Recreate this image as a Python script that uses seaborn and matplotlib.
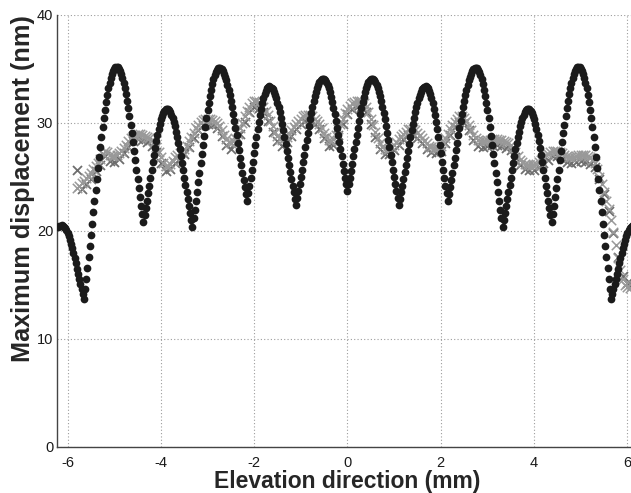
import numpy as np
import pandas as pd
import matplotlib
matplotlib.use("Agg")
import matplotlib.pyplot as plt
import seaborn as sns

# ---------------------------------------------------------------------------
# Maximum displacement (nm) along the elevation direction (mm)
# ---------------------------------------------------------------------------

# Scan A (black dots): sampled every 0.025 mm from -6.200 mm
scan_a_start = -6.2
scan_a_step = 0.025
# elevation -6.200 ... -0.025 mm
scan_a_neg = [
    20.32, 20.42, 20.48,
    20.50, 20.47, 20.38, 20.24, 20.04, 19.79, 19.50, 19.16, 18.78, 18.37,
    17.93, 17.47, 17.00, 16.51, 16.02, 15.54, 15.06, 14.59, 14.13,
    13.70, 14.63, 15.58, 16.55, 17.56, 18.58, 19.61, 20.66, 21.71, 22.76,
    23.80, 24.83, 25.84, 26.83, 27.79, 28.70, 29.58, 30.42, 31.20, 31.91,
    32.58, 33.19, 33.70, 34.14, 34.52, 34.81, 35.01, 35.14,
    35.20, 35.15, 35.02, 34.81, 34.53, 34.16, 33.73, 33.22, 32.65, 32.02,
    31.34, 30.61, 29.84, 29.05, 28.22, 27.38, 26.53, 25.67, 24.82, 23.98,
    23.15, 22.34, 21.56,
    20.80, 21.43, 22.10, 22.78, 23.48, 24.20, 24.92, 25.63, 26.34, 27.02,
    27.68, 28.31, 28.89, 29.42, 29.90, 30.32, 30.67, 30.94, 31.14, 31.26,
    31.30, 31.26, 31.16, 30.98, 30.74, 30.44, 30.08, 29.67, 29.20, 28.69,
    28.13, 27.54, 26.92, 26.28, 25.61, 24.94, 24.27, 23.59, 22.92, 22.26,
    21.62, 21.00,
    20.40, 21.17, 21.97, 22.80, 23.64, 24.51, 25.37, 26.25, 27.12, 27.98,
    28.82, 29.63, 30.41, 31.16, 31.85, 32.50, 33.08, 33.60, 34.04, 34.41,
    34.70, 34.92, 35.05,
    35.10, 35.08, 34.96, 34.79, 34.57, 34.29, 33.95, 33.54, 33.09, 32.59,
    32.05, 31.47, 30.86, 30.22, 29.55, 28.87, 28.18, 27.48, 26.78, 26.08,
    25.40, 24.72, 24.06, 23.42,
    22.80, 23.48, 24.18, 24.91, 25.66, 26.42, 27.18, 27.94, 28.68, 29.40,
    30.08, 30.72, 31.31, 31.83, 32.30, 32.68, 32.99, 33.22, 33.35,
    33.40, 33.36, 33.26, 33.10, 32.89, 32.61, 32.27, 31.89, 31.46, 30.97,
    30.45, 29.89, 29.31, 28.70, 28.07, 27.43, 26.78, 26.12, 25.47, 24.83,
    24.20, 23.58, 22.98,
    22.40, 23.01, 23.65, 24.31, 24.98, 25.67, 26.36, 27.06, 27.75, 28.43,
    29.10, 29.75, 30.37, 30.96, 31.52, 32.03, 32.49, 32.90, 33.26, 33.55,
    33.79, 33.96, 34.06,
    34.10, 34.06, 33.95, 33.77, 33.52, 33.21, 32.83, 32.40, 31.91, 31.38,
    30.81, 30.21, 29.57, 28.92, 28.25, 27.57, 26.90, 26.23, 25.57, 24.92,
    24.30,
]
# elevation 0.000 ... 6.200 mm
scan_a_pos = [
    23.70,
    24.30, 24.92, 25.57, 26.23, 26.90, 27.57, 28.25, 28.92, 29.57, 30.21,
    30.81, 31.38, 31.91, 32.40, 32.83, 33.21, 33.52, 33.77, 33.95, 34.06,
    34.10,
    34.06, 33.96, 33.79, 33.55, 33.26, 32.90, 32.49, 32.03, 31.52, 30.96,
    30.37, 29.75, 29.10, 28.43, 27.75, 27.06, 26.36, 25.67, 24.98, 24.31,
    23.65, 23.01, 22.40,
    22.98, 23.58, 24.20, 24.83, 25.47, 26.12, 26.78, 27.43, 28.07, 28.70,
    29.31, 29.89, 30.45, 30.97, 31.46, 31.89, 32.27, 32.61, 32.89, 33.10,
    33.26, 33.36, 33.40,
    33.35, 33.22, 32.99, 32.68, 32.30, 31.83, 31.31, 30.72, 30.08, 29.40,
    28.68, 27.94, 27.18, 26.42, 25.66, 24.91, 24.18, 23.48, 22.80,
    23.42, 24.06, 24.72, 25.40, 26.08, 26.78, 27.48, 28.18, 28.87, 29.55,
    30.22, 30.86, 31.47, 32.05, 32.59, 33.09, 33.54, 33.95, 34.29, 34.57,
    34.79, 34.96, 35.08, 35.10,
    35.05, 34.92, 34.70, 34.41, 34.04, 33.60, 33.08, 32.50, 31.85, 31.16,
    30.41, 29.63, 28.82, 27.98, 27.12, 26.25, 25.37, 24.51, 23.64, 22.80,
    21.97, 21.17, 20.40,
    21.00, 21.62, 22.26, 22.92, 23.59, 24.27, 24.94, 25.61, 26.28, 26.92,
    27.54, 28.13, 28.69, 29.20, 29.67, 30.08, 30.44, 30.74, 30.98, 31.16,
    31.26, 31.30,
    31.26, 31.14, 30.94, 30.67, 30.32, 29.90, 29.42, 28.89, 28.31, 27.68,
    27.02, 26.34, 25.63, 24.92, 24.20, 23.48, 22.78, 22.10, 21.43, 20.80,
    21.56, 22.34, 23.15, 23.98, 24.82, 25.67, 26.53, 27.38, 28.22, 29.05,
    29.84, 30.61, 31.34, 32.02, 32.65, 33.22, 33.73, 34.16, 34.53, 34.81,
    35.02, 35.15, 35.20,
    35.14, 35.01, 34.81, 34.52, 34.14, 33.70, 33.19, 32.58, 31.91, 31.20,
    30.42, 29.58, 28.70, 27.79, 26.83, 25.84, 24.83, 23.80, 22.76, 21.71,
    20.66, 19.61, 18.58, 17.56, 16.55, 15.58, 14.63, 13.70,
    14.13, 14.59, 15.06, 15.54, 16.02, 16.51, 17.00, 17.47, 17.93, 18.37,
    18.78, 19.16, 19.50, 19.79, 20.04, 20.24, 20.38, 20.47, 20.50,
    20.48, 20.42, 20.32,
]

# Scan B (light grey crosses): every 0.05 mm from -5.80 mm
scan_b_start = -5.8
scan_b_step = 0.05
scan_b = [
    24.0, 24.2, 24.4, 24.6, 24.9, 25.1, 25.4, 25.7, 26.0, 26.3, 26.7, 27.1,
    27.4, 27.3, 27.0, 26.9,
    26.9, 27.0, 27.2, 27.4, 27.7, 28.0, 28.3, 28.6, 28.8, 28.9,
    29.0, 29.0, 28.9, 28.8, 28.7, 28.6, 28.4, 28.2, 27.8, 27.3,
    26.8, 26.3, 26.0, 26.0, 26.2, 26.5, 26.8, 27.0, 27.2, 27.4,
    27.6, 27.9, 28.3, 28.7, 29.1, 29.5, 29.8, 30.1, 30.3, 30.4,
    30.4, 30.4, 30.3, 30.2, 30.0, 29.7, 29.3, 28.9, 28.5, 28.2,
    28.1, 28.3, 28.6, 29.0, 29.5, 30.0, 30.6, 31.1, 31.5, 31.8,
    32.0, 32.0, 31.9, 31.7, 31.5, 31.1, 30.7, 30.2, 29.7, 29.2,
    28.8, 28.5, 28.4, 28.5, 28.7, 29.0, 29.3, 29.6, 29.9, 30.2,
    30.4, 30.6, 30.7, 30.7, 30.7, 30.6, 30.4, 30.2, 29.9, 29.5,
    29.1, 28.7, 28.4, 28.3, 28.5, 28.9, 29.4, 29.9, 30.4, 30.9,
    31.3, 31.6, 31.8, 31.9, 32.0, 32.0, 32.0, 31.8, 31.5, 31.0,
    30.4, 29.8, 29.2, 28.6, 28.1, 27.8, 27.6, 27.5, 27.6, 27.8,
    28.0, 28.2, 28.5, 28.8, 29.0, 29.2, 29.4, 29.4, 29.4, 29.3,
    29.1, 28.9, 28.6, 28.3, 28.1, 27.9, 27.8, 27.7, 27.7, 27.7,
    27.9, 28.2, 28.6, 29.0, 29.4, 29.8, 30.1, 30.4, 30.6, 30.6,
    30.5, 30.2, 29.8, 29.3, 28.9, 28.6, 28.4, 28.3, 28.3, 28.3,
    28.4, 28.4, 28.5, 28.5, 28.5, 28.4, 28.4, 28.3, 28.2, 28.1,
    28.0, 27.7, 27.3, 26.9, 26.6, 26.4, 26.2, 26.1, 26.1, 26.1,
    26.1, 26.2, 26.4, 26.6, 26.8, 27.0, 27.1, 27.3, 27.4, 27.4,
    27.4, 27.3, 27.2, 27.0, 26.9, 26.8, 26.8, 26.8, 26.9, 27.0,
    27.0, 27.0, 27.0, 26.9, 26.8, 26.6, 26.3, 25.7, 25.0, 24.3,
    23.6, 22.8, 22.0, 21.0, 19.9, 18.7, 17.5, 16.4, 15.5, 15.0,
    14.8, 14.7,
]

# Scan C (dark grey crosses): every 0.1 mm from -5.8 mm
scan_c_start = -5.8
scan_c_step = 0.1
scan_c = [
    25.6, 23.9, 24.3, 24.8, 25.5, 26.1, 26.9, 26.5, 26.4, 26.7,
    27.2, 27.8, 28.3, 28.5, 28.4, 28.2, 27.9, 27.3, 26.3, 25.5,
    25.7, 26.3, 26.7, 27.1, 27.8, 28.6, 29.3, 29.8, 29.9, 29.8,
    29.5, 28.8, 28.0, 27.6, 28.1, 29.0, 30.1, 31.0, 31.5, 31.4,
    31.0, 30.2, 29.2, 28.3, 27.9, 28.2, 28.8, 29.4, 29.9, 30.2,
    30.2, 29.9, 29.4, 28.6, 27.9, 28.0, 28.9, 29.9, 30.8, 31.3,
    31.5, 31.5, 31.0, 29.9, 28.7, 27.6, 27.1, 27.1, 27.5, 28.0,
    28.5, 28.9, 28.9, 28.6, 28.1, 27.6, 27.3, 27.2, 27.4, 28.1,
    28.9, 29.6, 30.1, 30.0, 29.3, 28.4, 27.9, 27.8, 27.9, 28.0,
    28.0, 27.9, 27.7, 27.5, 26.8, 26.1, 25.7, 25.6, 25.6, 25.9,
    26.3, 26.6, 26.9, 26.9, 26.7, 26.4, 26.3, 26.4, 26.5, 26.4,
    26.2, 25.9, 24.8, 23.4, 21.8, 19.8, 17.6, 15.8, 15.2, 15.0,
]

x_ticks = [-6, -4, -2, 0, 2, 4, 6]
y_ticks = [0, 10, 20, 30, 40]
x_label = "Elevation direction (mm)"
y_label = "Maximum displacement (nm)"


def as_frame(start, step, values):
    v = np.asarray(values, dtype=float)
    return pd.DataFrame({"elev": start + step * np.arange(v.size), "disp": v})


df_a = as_frame(scan_a_start, scan_a_step, scan_a_neg + scan_a_pos)
df_b = as_frame(scan_b_start, scan_b_step, scan_b)
df_c = as_frame(scan_c_start, scan_c_step, scan_c)

sns.set_style("white")
plt.rcParams["font.family"] = ["Liberation Sans", "DejaVu Sans"]

fig = plt.figure(figsize=(6.31, 4.93), dpi=100)
ax = fig.add_axes([0.0908, 0.0939, 0.9197, 0.8757])

sns.scatterplot(data=df_c, x="elev", y="disp", ax=ax, marker="x", s=42,
                color="#6e6e6e", linewidth=1.3, zorder=2, legend=False)
sns.scatterplot(data=df_b, x="elev", y="disp", ax=ax, marker="x", s=46,
                color="#999999", linewidth=1.1, zorder=2.5, legend=False)
sns.scatterplot(data=df_a, x="elev", y="disp", ax=ax, marker="o", s=31,
                color="#1b1b1b", linewidth=0, zorder=3, legend=False)

ax.set_xlim(-6.22, 6.22)
ax.set_ylim(0, 40)
ax.set_xticks(x_ticks)
ax.set_xticklabels([str(t) for t in x_ticks])
ax.set_yticks(y_ticks)
ax.set_yticklabels([str(t) for t in y_ticks])

ax.grid(True, linestyle=(0, (1, 2)), color="#9c9c9c", linewidth=0.8)
ax.set_axisbelow(True)
for side in ("top", "right"):
    ax.spines[side].set_visible(False)
for side in ("left", "bottom"):
    ax.spines[side].set_color("#444444")
    ax.spines[side].set_linewidth(1.0)

ax.tick_params(axis="both", direction="in", length=4, width=0.8,
               color="#444444", labelsize=10.5, labelcolor="#1a1a1a")
ax.tick_params(axis="x", pad=7)
ax.tick_params(axis="y", pad=3)

ax.set_xlabel(x_label, fontsize=16.5, fontweight="bold")
ax.xaxis.set_label_coords(0.4995, -0.053, transform=ax.transAxes)
ax.xaxis.label.set_verticalalignment("top")
ax.set_ylabel(y_label, fontsize=18.2, fontweight="bold")
ax.yaxis.set_label_coords(-0.059, 0.599, transform=ax.transAxes)
ax.yaxis.label.set_verticalalignment("center")

fig.savefig("out.png", dpi=100)
